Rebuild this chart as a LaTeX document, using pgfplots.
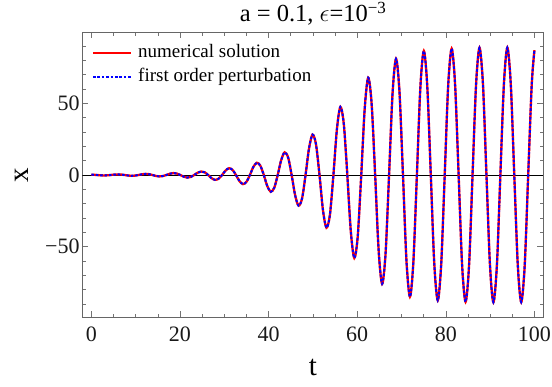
\documentclass[border=0pt]{standalone}
\usepackage{fontspec}
\setmainfont{Liberation Serif}
\usepackage{pgfplots}
\pgfplotsset{compat=1.18}
\usepackage{pgfplotstable}

\pgfplotstableread{
t x
0 0.23
0.435 0.18
1.221 0
2.006 -0.2
2.792 -0.3
3.577 -0.23
4.362 0
5.148 0.27
5.933 0.4
6.719 0.3
7.504 0
8.29 -0.36
9.075 -0.55
9.86 -0.42
10.646 0
11.43 0.5
12.217 0.77
13.0 0.59
13.79 0
14.57 -0.66
15.36 -0.99
16.14 -0.74
16.93 0
17.71 0.88
18.5 1.33
19.28 1.02
20.07 0
20.86 -1.19
21.64 -1.8
22.43 -1.37
23.21 0
24.0 1.62
24.78 2.45
25.57 1.89
26.35 0
27.14 -2.23
27.92 -3.38
28.71 -2.6
29.5 0
30.28 3.09
31.07 4.74
31.85 3.61
32.64 0
33.42 -4.21
34.21 -6.35
34.99 -4.84
35.78 0
36.56 5.63
37.35 8.53
38.13 6.54
38.92 0
39.7 -7.71
40.49 -11.7
41.28 -8.91
42.06 0
42.85 10.5
43.63 15.8
44.42 12.1
45.2 0
45.99 -14.1
46.77 -21.4
47.56 -16.3
48.34 0
49.13 18.7
49.92 28.2
50.7 21.4
51.49 0
52.27 -24.5
53.06 -36.8
53.84 -27.8
54.63 0
55.41 31.7
56.2 47.5
56.98 35.4
57.77 0
58.55 -39.1
59.34 -57.9
60.12 -42.8
60.91 0
61.69 46.2
62.48 67.9
63.26 49.5
64.05 0
64.83 -52.3
65.62 -76.0
66.4 -54.7
67.19 0
67.97 56.5
68.76 81.1
69.54 58.0
70.33 0
71.11 -59.4
71.9 -85.0
72.68 -60.4
73.47 0
74.25 61.0
75.04 86.6
75.82 61.4
76.61 0
77.39 -61.7
78.18 -87.5
78.96 -62.0
79.75 0
80.53 62.2
81.32 88.2
82.1 62.4
82.89 0
83.67 -62.5
84.46 -88.5
85.25 -62.6
86.03 0
86.82 62.7
87.6 88.8
88.39 62.8
89.17 0
89.96 -62.8
90.74 -88.8
91.53 -62.8
92.31 0
93.1 62.8
93.88 88.9
94.67 62.8
95.45 0
96.24 -62.7
97.02 -88.7
97.81 -62.6
98.59 0
99.38 62.6
100 87.1
}\datatable

\begin{document}
\begin{tikzpicture}
\useasboundingbox (0,0) rectangle (552pt,387pt);
\begin{axis}[
  at={(82.5pt,69.7pt)}, anchor=south west,
  scale only axis, width=460.8pt, height=285pt,
  xmin=-2, xmax=102, ymin=-99.3, ymax=99.6,
  xtick={0,20,40,60,80,100},
  xticklabels={0,20,40,60,80,100},
  ytick={-50,0,50},
  yticklabels={−50,0,50},
  minor xtick={0,5,...,100},
  minor ytick={-90,-80,...,90},
  tick align=inside,
  major tick length=6pt, minor tick length=3.5pt,
  every tick/.style={black!55, line width=0.5pt},
  axis line style={black!60, line width=0.7pt},
  ticklabel style={font=\fontsize{22}{26}\selectfont, text=black!90},
  xticklabel style={inner sep=0pt, anchor=north, yshift=-9.4pt},
  yticklabel style={inner sep=0pt, anchor=east, xshift=-2.7pt},
  title={a = 0.1, $\epsilon$=10\raisebox{8.5pt}{\fontsize{17}{18}\selectfont −3}},
  title style={font=\fontsize{24.5}{28}\selectfont, at={(rel axis cs:0.5,1)}, anchor=base, yshift=4.5pt, inner sep=0pt},
  xlabel={t},
  xlabel style={font=\fontsize{29}{32}\selectfont, at={(rel axis cs:0.5,0)}, anchor=base, yshift=-58pt, inner sep=0pt},
  ylabel={x},
  ylabel style={font=\fontsize{29}{32}\selectfont, at={(rel axis cs:0,0.5)}, anchor=center, yshift=60.5pt, inner sep=0pt},
  legend cell align=left,
  legend style={at={(rel axis cs:0,1)}, anchor=north west, draw=none, fill=none,
    font=\fontsize{19}{22}\selectfont, xshift=9.2pt, yshift=-12pt, inner sep=0pt,
    row sep=7.5pt, column sep=6pt,
    nodes={inner sep=0pt, text height=13pt, text depth=4pt}},
  legend image code/.code={\draw[#1] (0pt,0pt) -- (38pt,0pt);},
]
\addplot[black, line width=0.6pt, forget plot] coordinates {(-2,0) (102,0)};
\addplot[red, line width=2.3pt, smooth] table[x=t, y=x] {\datatable};
\addlegendentry{numerical solution}
\addplot[color=blue, line width=2pt, dash pattern=on 2.6pt off 1.8pt, smooth] table[x=t, y=x] {\datatable};
\addlegendentry{first order perturbation}
\end{axis}
\end{tikzpicture}
\end{document}
